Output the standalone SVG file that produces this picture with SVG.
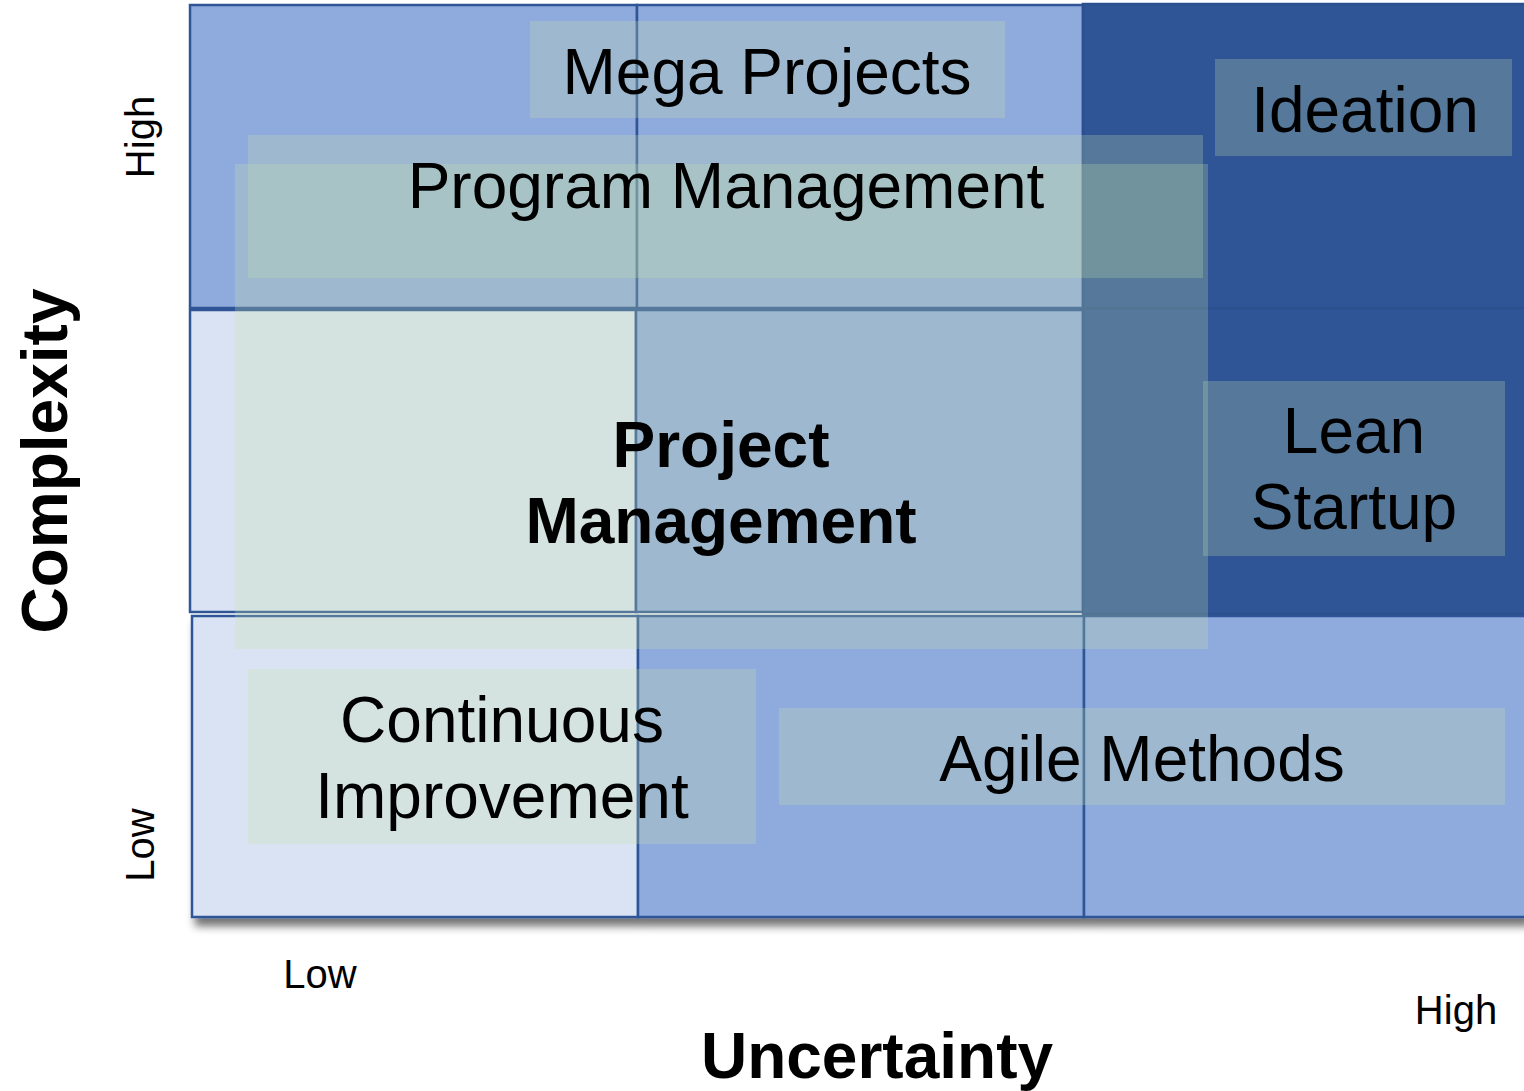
<svg xmlns="http://www.w3.org/2000/svg" width="1524" height="1091" viewBox="0 0 1524 1091">
<defs>
<style>
.cell{stroke:#2F5597;stroke-width:2.5}
.mid{fill:#8FAADC}
.lt{fill:#DAE3F3}
.dk{fill:#2F5597;stroke:#2C508E}
.ov{fill:#C7E5A7;fill-opacity:0.25}
.t{font-family:"Liberation Sans",Arial,sans-serif;font-size:64px;fill:#000;text-anchor:middle}
.b{font-weight:bold}
.ax{font-family:"Liberation Sans",Arial,sans-serif;font-size:40px;fill:#000;text-anchor:middle}
</style>
<filter id="sh" x="-5%" y="-10%" width="110%" height="130%">
<feDropShadow dx="4" dy="8" stdDeviation="4" flood-color="#000" flood-opacity="0.55"/>
</filter>
</defs>
<g id="grid">
<g id="row3" filter="url(#sh)">
<rect id="cell-bl" class="cell lt" x="192" y="616" width="446" height="301"/>
<rect id="cell-bm" class="cell mid" x="638" y="616" width="446" height="301"/>
<rect id="cell-br" class="cell mid" x="1084" y="616" width="442" height="301"/>
</g>
<g id="row2">
<rect id="cell-ml" class="cell lt" x="190" y="310" width="446" height="302"/>
<rect id="cell-mm" class="cell mid" x="636" y="310" width="447" height="302"/>
<rect id="cell-mr" class="cell dk" x="1083" y="308" width="443" height="306"/>
</g>
<g id="row1">
<rect id="cell-tl" class="cell mid" x="190" y="5" width="447" height="303"/>
<rect id="cell-tm" class="cell mid" x="637" y="5" width="446" height="303"/>
<rect id="cell-tr" class="cell dk" x="1083" y="4" width="443" height="304"/>
</g>
</g>
<g id="connectors"></g>
<g id="node-project-management">
<rect class="ov" x="235" y="164" width="973" height="485"/>
<text class="t b" x="721" y="467">Project</text>
<text class="t b" x="721" y="543">Management</text>
</g>
<g id="node-program-management">
<rect class="ov" x="248" y="135" width="955" height="143"/>
<text class="t" x="726" y="208">Program Management</text>
</g>
<g id="node-mega-projects">
<rect class="ov" x="530" y="21" width="475" height="97"/>
<text class="t" x="767" y="94">Mega Projects</text>
</g>
<g id="node-ideation">
<rect class="ov" x="1215" y="59" width="297" height="97"/>
<text class="t" x="1365" y="132">Ideation</text>
</g>
<g id="node-lean-startup">
<rect class="ov" x="1203" y="381" width="302" height="175"/>
<text class="t" x="1354" y="453">Lean</text>
<text class="t" x="1354" y="529">Startup</text>
</g>
<g id="node-continuous-improvement">
<rect class="ov" x="248" y="669" width="508" height="175"/>
<text class="t" x="502" y="742">Continuous</text>
<text class="t" x="502" y="818">Improvement</text>
</g>
<g id="node-agile-methods">
<rect class="ov" x="779" y="708" width="726" height="97"/>
<text class="t" x="1142" y="781">Agile Methods</text>
</g>
<g id="axes">
<text class="t b" transform="translate(67,461) rotate(-90)">Complexity</text>
<text class="ax" transform="translate(154,137) rotate(-90)">High</text>
<text class="ax" transform="translate(154,845) rotate(-90)">Low</text>
<text class="ax" x="320" y="988">Low</text>
<text class="ax" x="1456" y="1024">High</text>
<text class="t b" x="877" y="1078">Uncertainty</text>
</g>
</svg>
